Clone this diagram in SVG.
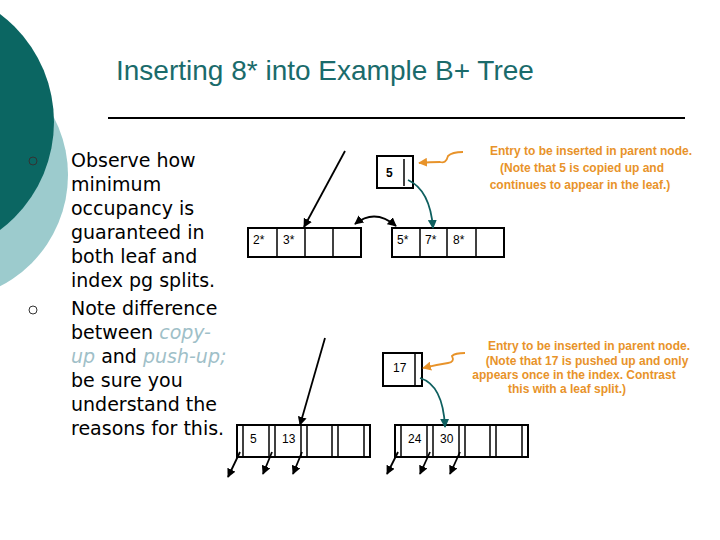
<svg xmlns="http://www.w3.org/2000/svg" width="720" height="540" viewBox="0 0 720 540">
<defs>
<marker id="ah" viewBox="0 0 10 10" refX="9" refY="5" markerWidth="5" markerHeight="5" orient="auto-start-reverse"><path d="M0,0L10,5L0,10z" fill="#000"/></marker>
<marker id="at" viewBox="0 0 10 10" refX="9" refY="5" markerWidth="5" markerHeight="5" orient="auto"><path d="M0,0L10,5L0,10z" fill="#0e5f5f"/></marker>
<marker id="ao" viewBox="0 0 10 10" refX="9" refY="5" markerWidth="5" markerHeight="5" orient="auto"><path d="M0,0L10,5L0,10z" fill="#e8932a"/></marker>
</defs>
<style>
.b{fill:#fff;stroke:#000;stroke-width:2}
.l{stroke:#000;stroke-width:1.5}
.k{font-family:"Liberation Sans",Arial,sans-serif;font-size:12px;fill:#000}
.bt{font-family:"DejaVu Sans",Verdana,sans-serif;font-size:19px;fill:#000}
.hl{fill:#9fc0c8;font-style:italic}
.or{font-family:"Liberation Sans",Arial,sans-serif;font-size:12px;font-weight:bold;fill:#e8932a;text-anchor:middle}
.ar{fill:none;stroke:#000;stroke-width:1.8}
</style>
<rect width="720" height="540" fill="#fff"/>
<circle cx="-57" cy="175" r="125" fill="#9ccbcd"/>
<circle cx="-81" cy="122" r="135" fill="#0b6662"/>
<text x="116" y="80" font-family="Liberation Sans,Arial,sans-serif" font-size="28" fill="#1a6b6b">Inserting 8* into Example B+ Tree</text>
<line x1="108" y1="118" x2="685" y2="118" stroke="#000" stroke-width="2"/>
<g id="bullets">
<circle cx="33" cy="161" r="4" fill="none" stroke="#333" stroke-width="1"/>
<circle cx="33" cy="310" r="4" fill="none" stroke="#333" stroke-width="1"/>
<text class="bt" x="71" y="167">Observe how</text>
<text class="bt" x="71" y="191">minimum</text>
<text class="bt" x="71" y="215">occupancy is</text>
<text class="bt" x="71" y="239">guaranteed in</text>
<text class="bt" x="71" y="263">both leaf and</text>
<text class="bt" x="71" y="287">index pg splits.</text>
<text class="bt" x="71" y="315">Note difference</text>
<text class="bt" x="71" y="339">between <tspan class="hl">copy-</tspan></text>
<text class="bt" x="71" y="363"><tspan class="hl">up</tspan> and <tspan class="hl">push-up;</tspan></text>
<text class="bt" x="71" y="387">be sure you</text>
<text class="bt" x="71" y="411">understand the</text>
<text class="bt" x="71" y="435">reasons for this.</text>
</g>
<g id="leaf1">
<rect class="b" x="248" y="228" width="113" height="29"/>
<line class="l" x1="277" y1="228" x2="277" y2="257"/><line class="l" x1="305" y1="228" x2="305" y2="257"/><line class="l" x1="333" y1="228" x2="333" y2="257"/>
<text class="k" x="253" y="244">2*</text><text class="k" x="283" y="244">3*</text>
</g>
<g id="leaf2">
<rect class="b" x="392" y="228" width="112" height="29"/>
<line class="l" x1="420" y1="228" x2="420" y2="257"/><line class="l" x1="447" y1="228" x2="447" y2="257"/><line class="l" x1="476" y1="228" x2="476" y2="257"/>
<text class="k" x="397" y="244">5*</text><text class="k" x="425" y="244">7*</text><text class="k" x="453" y="244">8*</text>
</g>
<g id="node5">
<rect class="b" x="377" y="156" width="36" height="32"/>
<line class="l" x1="404" y1="159" x2="404" y2="186"/>
<text class="k" x="386" y="177" font-weight="bold">5</text>
</g>
<g id="idx1">
<rect class="b" x="237" y="425" width="133" height="32"/>
<line class="l" x1="243" y1="425" x2="243" y2="457"/><line class="l" x1="269" y1="425" x2="269" y2="457"/><line class="l" x1="275" y1="425" x2="275" y2="457"/><line class="l" x1="301" y1="425" x2="301" y2="457"/><line class="l" x1="307" y1="425" x2="307" y2="457"/><line class="l" x1="332" y1="425" x2="332" y2="457"/><line class="l" x1="338" y1="425" x2="338" y2="457"/><line class="l" x1="364" y1="425" x2="364" y2="457"/>
<text class="k" x="250" y="443">5</text><text class="k" x="282" y="443">13</text>
</g>
<g id="idx2">
<rect class="b" x="395" y="425" width="133" height="32"/>
<line class="l" x1="401" y1="425" x2="401" y2="457"/><line class="l" x1="427" y1="425" x2="427" y2="457"/><line class="l" x1="433" y1="425" x2="433" y2="457"/><line class="l" x1="459" y1="425" x2="459" y2="457"/><line class="l" x1="465" y1="425" x2="465" y2="457"/><line class="l" x1="490" y1="425" x2="490" y2="457"/><line class="l" x1="496" y1="425" x2="496" y2="457"/><line class="l" x1="522" y1="425" x2="522" y2="457"/>
<text class="k" x="408" y="443">24</text><text class="k" x="440" y="443">30</text>
</g>
<g id="node17">
<rect class="b" x="383" y="353" width="39" height="33"/>
<line class="l" x1="415" y1="353" x2="415" y2="386"/>
<text class="k" x="393" y="372">17</text>
</g>
<g id="connectors">
<line class="ar" x1="345" y1="151" x2="304" y2="227" marker-end="url(#ah)"/>
<path class="ar" d="M355,224 Q375,208 396,226" marker-start="url(#ah)" marker-end="url(#ah)"/>
<line class="ar" x1="325" y1="338" x2="300" y2="425" marker-end="url(#ah)"/>
<path d="M408,180 Q430,190 433,228" fill="none" stroke="#0e5f5f" stroke-width="1.8" marker-end="url(#at)"/>
<path d="M420,378 Q443,385 445,427" fill="none" stroke="#0e5f5f" stroke-width="1.8" marker-end="url(#at)"/>
<path d="M463,152 Q452,152 448,156 Q446,164 440,162 Q430,162 419,163" fill="none" stroke="#e8932a" stroke-width="1.8" marker-end="url(#ao)"/>
<path d="M465,353 Q455,353 452,356 Q455,362 448,363 Q435,365 423,368" fill="none" stroke="#e8932a" stroke-width="1.8" marker-end="url(#ao)"/>
<line class="ar" x1="240" y1="452" x2="228" y2="477" marker-end="url(#ah)"/>
<line class="ar" x1="272" y1="452" x2="263" y2="474" marker-end="url(#ah)"/>
<line class="ar" x1="302" y1="452" x2="293" y2="474" marker-end="url(#ah)"/>
<line class="ar" x1="398" y1="452" x2="387" y2="474" marker-end="url(#ah)"/>
<line class="ar" x1="430" y1="452" x2="420" y2="474" marker-end="url(#ah)"/>
<line class="ar" x1="460" y1="452" x2="450" y2="474" marker-end="url(#ah)"/>
</g>
<g id="notes">
<text class="or" x="591" y="155">Entry to be inserted in parent node.</text>
<text class="or" x="582" y="172">(Note that 5 is copied up and</text>
<text class="or" x="580" y="189">continues to appear in the leaf.)</text>
<text class="or" x="589" y="350">Entry to be inserted in parent node.</text>
<text class="or" x="587" y="365">(Note that 17 is pushed up and only</text>
<text class="or" x="574" y="379">appears once in the index. Contrast</text>
<text class="or" x="567" y="393">this with a leaf split.)</text>
</g>
</svg>
